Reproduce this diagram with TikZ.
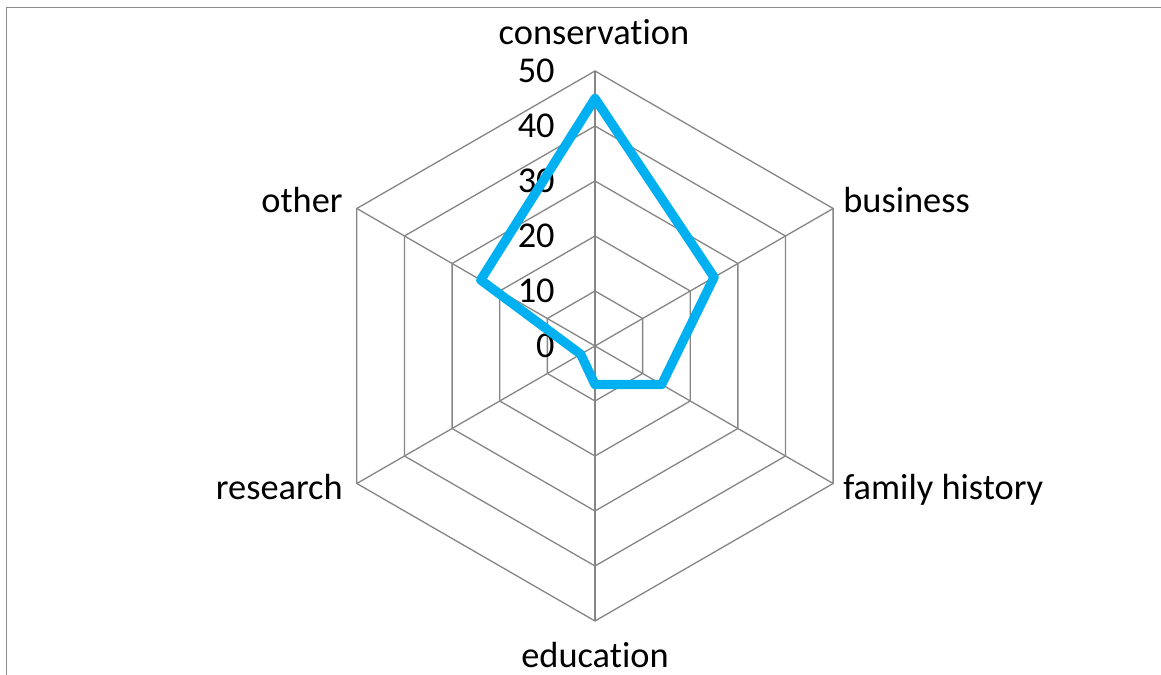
\documentclass[tikz,border=0pt]{standalone}
\usepackage{fontspec}
\setmainfont[Ligatures=NoCommon]{Carlito}
\definecolor{gridgray}{RGB}{134,134,134}
\definecolor{framegray}{RGB}{140,140,140}
\definecolor{seriesblue}{RGB}{0,176,240}
\newcommand{\chartfont}{\fontsize{20.7}{25}\selectfont}

\begin{document}
\begin{tikzpicture}[x=0.02cm,y=0.02cm,
		gridline/.style={draw=gridgray, line width=0.75pt},
		series/.style={draw=seriesblue, line width=5.3pt, line join=round},
		ticklabel/.style={anchor=base east, inner sep=0pt, font=\chartfont},
		axislabel/.style={inner sep=0pt, font=\chartfont}]
	\useasboundingbox (-595,-329) rectangle (566,346);
	\draw [framegray, line width=0.85pt] (-588.5,-340) -- (-588.5,338.5) -- (580,338.5);
	% hexagon rings, 10 per step
	\foreach \r in {55,110,165,220,275}
		\draw [gridline] (90:\r) -- (30:\r) -- (-30:\r) -- (-90:\r) -- (-150:\r) -- (150:\r) -- cycle;
	\coordinate (centre) at (0,0);
	\coordinate (conservation) at (90:275);
	\coordinate (business) at (30:275);
	\coordinate (familyhistory) at (-30:275);
	\coordinate (education) at (-90:275);
	\coordinate (research) at (-150:275);
	\coordinate (other) at (150:275);
	\foreach \v in {conservation,business,familyhistory,education,research,other}
		\draw [gridline] (centre) -- (\v);
	% scale
	\foreach \t in {0,1,2,3,4,5}
		\node [ticklabel] (tick\t) at (-40,{\t*55-12}) {\the\numexpr\t*10\relax};
	% data
	\coordinate (p1) at (90:{45*5.5});
	\coordinate (p2) at (30:{25*5.5});
	\coordinate (p3) at (-30:{14*5.5});
	\coordinate (p4) at (-90:{7*5.5});
	\coordinate (p5) at (-150:{3*5.5});
	\coordinate (p6) at (150:{24*5.5});
	\draw [series] (p1) -- (p2) -- (p3) -- (p4) -- (p5) -- (p6) -- cycle;
	% category names
	\node [axislabel, anchor=base] (lconservation) at (-1,301) {conservation};
	\node [axislabel, anchor=base west] (lbusiness) at (248,133) {business};
	\node [axislabel, anchor=base west] (lfamily) at (248,-154) {family history};
	\node [axislabel, anchor=base] (leducation) at (0,-322) {education};
	\node [axislabel, anchor=base east] (lresearch) at (-252,-154) {research};
	\node [axislabel, anchor=base east] (lother) at (-252,133) {other};
\end{tikzpicture}
\end{document}
